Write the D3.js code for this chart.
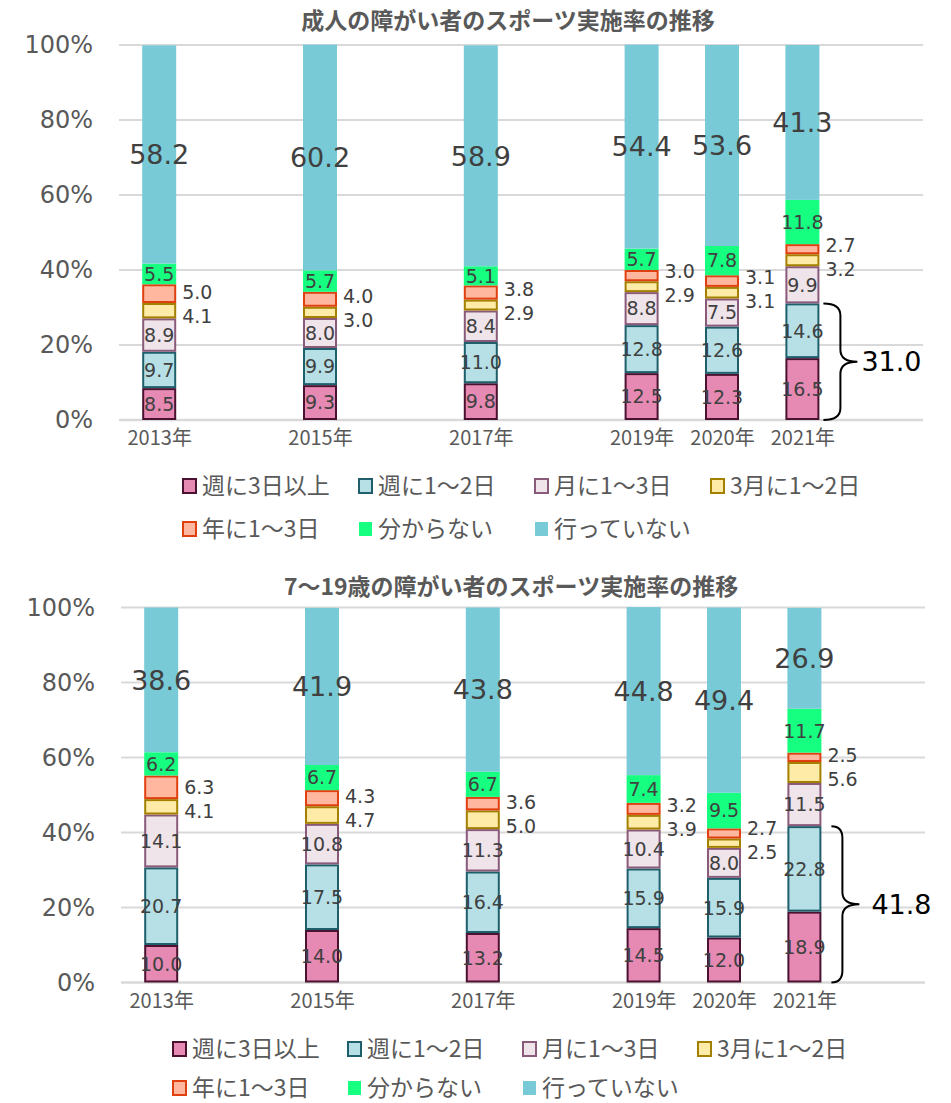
<!DOCTYPE html>
<html><head><meta charset="utf-8">
<script src="https://cdn.jsdelivr.net/npm/d3@7"></script>
<style>
html,body{margin:0;padding:0;background:#fff;}
svg{display:block;}
</style></head>
<body>
<svg id="chart" width="951" height="1103"></svg>
<script>
// ---------- data ----------
const years = [2013, 2015, 2017, 2019, 2020, 2021];
const yearLabels = ["2013年", "2015年", "2017年", "2019年", "2020年", "2021年"];
const seriesNames = ["週に3日以上", "週に1～2日", "月に1～3日", "3月に1～2日", "年に1～3日", "分からない", "行っていない"];
const yTickValues = [0, 20, 40, 60, 80, 100];
const yTickLabels = ["0%", "20%", "40%", "60%", "80%", "100%"];

const titleAdult = "成人の障がい者のスポーツ実施率の推移";
const adultWeek3 = [8.5, 9.3, 9.8, 12.5, 12.3, 16.5];
const adultWeek12 = [9.7, 9.9, 11.0, 12.8, 12.6, 14.6];
const adultMonth13 = [8.9, 8.0, 8.4, 8.8, 7.5, 9.9];
const adult3Month12 = [4.1, 3.0, 2.9, 2.9, 3.1, 3.2];
const adultYear13 = [5.0, 4.0, 3.8, 3.0, 3.1, 2.7];
const adultUnknown = [5.5, 5.7, 5.1, 5.7, 7.8, 11.8];
const adultNone = [58.2, 60.2, 58.9, 54.4, 53.6, 41.3];
const adultBraceLabel = "31.0";

const titleYouth = "7～19歳の障がい者のスポーツ実施率の推移";
const youthWeek3 = [10.0, 14.0, 13.2, 14.5, 12.0, 18.9];
const youthWeek12 = [20.7, 17.5, 16.4, 15.9, 15.9, 22.8];
const youthMonth13 = [14.1, 10.8, 11.3, 10.4, 8.0, 11.5];
const youth3Month12 = [4.1, 4.7, 5.0, 3.9, 2.5, 5.6];
const youthYear13 = [6.3, 4.3, 3.6, 3.2, 2.7, 2.5];
const youthUnknown = [6.2, 6.7, 6.7, 7.4, 9.5, 11.7];
const youthNone = [38.6, 41.9, 43.8, 44.8, 49.4, 26.9];
const youthBraceLabel = "41.8";

// ---------- styles ----------
const fills = ["#E68AB3", "#B6E0E6", "#F0E4EB", "#FFEBA8", "#FFB7A0", "#16FF80", "#77CAD6"];
const strokes = ["#4A1230", "#1F5F6B", "#8A5A7A", "#A38000", "#E0400F", null, null];
const NUM_FONT = "'DejaVu Sans', Verdana, sans-serif";
const JP_FONT = "'Noto Sans CJK JP', 'Noto Sans', sans-serif";
const GRAY = "#595959";
const LABEL = "#404040";

const svg = d3.select("#chart");

function drawChart(cfg) {
  const g = svg.append("g");
  const x = d3.scaleLinear().domain([2012.5, 2022.5]).range([cfg.left, cfg.right]);
  const y = d3.scaleLinear().domain([0, 100]).range([cfg.bottom, cfg.top]);
  const barW = 34;

  // title
  g.append("text").attr("x", cfg.titleX).attr("y", cfg.titleY)
    .attr("text-anchor", "middle").attr("font-family", JP_FONT)
    .attr("font-weight", 700).attr("font-size", 23).attr("fill", GRAY)
    .text(cfg.title);

  // gridlines
  g.selectAll("line.grid").data(yTickValues).join("line")
    .attr("x1", cfg.left).attr("x2", cfg.right)
    .attr("y1", d => y(d)).attr("y2", d => y(d))
    .attr("stroke", "#D9D9D9").attr("stroke-width", d => d === 0 ? 2.5 : 2);

  // y axis labels
  const yAxis = d3.axisLeft(y).tickValues(yTickValues).tickSize(0)
    .tickFormat((d, i) => yTickLabels[i]);
  const ya = g.append("g").attr("transform", `translate(${cfg.yLabelRight},0)`).call(yAxis);
  ya.select(".domain").remove();
  ya.selectAll("text").attr("font-family", NUM_FONT).attr("font-size", 24)
    .attr("fill", GRAY).attr("dx", 0).attr("x", 0);

  // x axis labels
  const xAxis = d3.axisBottom(x).tickValues(years).tickSize(0)
    .tickFormat((d, i) => yearLabels[i]);
  const xa = g.append("g").attr("transform", `translate(0,${cfg.bottom})`).call(xAxis);
  xa.select(".domain").remove();
  xa.selectAll("text").attr("font-family", JP_FONT).attr("font-size", 20)
    .attr("fill", GRAY).attr("y", 11);

  // stack
  const rows = years.map((yr, i) => {
    const o = { year: yr };
    cfg.series.forEach((s, k) => o["s" + k] = s[i]);
    return o;
  });
  const keys = cfg.series.map((s, k) => "s" + k);
  const stacked = d3.stack().keys(keys)(rows);

  stacked.forEach((layer, k) => {
    g.append("g").selectAll("rect").data(layer).join("rect")
      .attr("x", d => x(d.data.year) - barW / 2 + (strokes[k] ? 1 : 0))
      .attr("width", barW - (strokes[k] ? 2 : 0))
      .attr("y", d => y(d[1]) + (strokes[k] ? 1 : 0))
      .attr("height", d => Math.max(0, y(d[0]) - y(d[1]) - (strokes[k] ? 2 : 0)))
      .attr("fill", fills[k])
      .attr("stroke", strokes[k] || "none")
      .attr("stroke-width", 2);
  });

  // inside labels
  [0, 1, 2, 5, 6].forEach(k => {
    const layer = stacked[k];
    g.append("g").selectAll("text").data(layer).join("text")
      .attr("x", d => x(d.data.year))
      .attr("y", d => (y(d[0]) + y(d[1])) / 2)
      .attr("dy", "0.36em")
      .attr("text-anchor", "middle")
      .attr("font-family", NUM_FONT)
      .attr("font-size", k === 6 ? 27 : 19)
      .attr("fill", LABEL)
      .text(d => d3.format(".1f")(d.data["s" + k]));
  });

  // outside labels for the two thin series (3月に1～2日, 年に1～3日)
  const gap = 24;
  years.forEach((yr, i) => {
    const l3 = stacked[3][i], l4 = stacked[4][i];
    let c3 = (y(l3[0]) + y(l3[1])) / 2;
    let c4 = (y(l4[0]) + y(l4[1])) / 2;
    if (c3 - c4 < gap) {
      const m = (c3 + c4) / 2 + 2;
      c3 = m + gap / 2; c4 = m - gap / 2;
    }
    [[3, c3], [4, c4]].forEach(([k, cy]) => {
      g.append("text")
        .attr("x", x(yr) + barW / 2 + 6)
        .attr("y", cy).attr("dy", "0.36em")
        .attr("font-family", NUM_FONT).attr("font-size", 19)
        .attr("fill", LABEL)
        .text(d3.format(".1f")(cfg.series[k][i]));
    });
  });

  // brace on the last bar covering the first two series
  const last = years.length - 1;
  const yTop = y(stacked[1][last][1]);
  const yBot = y(0);
  const ym = (yTop + yBot) / 2;
  const bx = x(years[last]) + barW / 2;
  const x0 = bx + cfg.braceStart, xv = bx + 21, x2 = bx + 38;
  const r = 12;
  const p = d3.path();
  p.moveTo(x0, yTop);
  p.quadraticCurveTo(xv, yTop, xv, yTop + r);
  p.lineTo(xv, ym - r);
  p.quadraticCurveTo(xv, ym, x2, ym);
  p.quadraticCurveTo(xv, ym, xv, ym + r);
  p.lineTo(xv, yBot - r);
  p.quadraticCurveTo(xv, yBot, x0, yBot);
  g.append("path").attr("d", p.toString()).attr("fill", "none")
    .attr("stroke", "#000").attr("stroke-width", 2);
  g.append("text").attr("x", x2 + cfg.braceLabelGap).attr("y", ym).attr("dy", "0.36em")
    .attr("font-family", NUM_FONT).attr("font-size", 27).attr("fill", "#000")
    .text(cfg.braceLabel);

  // legend
  const rowsLegend = [[0, 1, 2, 3], [4, 5, 6]];
  rowsLegend.forEach((row, ri) => {
    row.forEach((k, ci) => {
      const lx = cfg.legendX + ci * cfg.legendStep;
      const ly = cfg.legendY + ri * cfg.legendRowGap;
      g.append("rect").attr("x", lx + 1).attr("y", ly - 7).attr("width", 13).attr("height", 14)
        .attr("fill", fills[k]).attr("stroke", strokes[k] || "none").attr("stroke-width", 2);
      g.append("text").attr("x", lx + 20).attr("y", ly).attr("dy", "0.36em")
        .attr("font-family", JP_FONT).attr("font-size", 23).attr("fill", GRAY)
        .text(seriesNames[k]);
    });
  });
}

drawChart({
  title: titleAdult, titleX: 508, titleY: 29,
  left: 119, right: 923, top: 45, bottom: 420, yLabelRight: 93,
  series: [adultWeek3, adultWeek12, adultMonth13, adult3Month12, adultYear13, adultUnknown, adultNone],
  braceLabel: adultBraceLabel, braceStart: 4, braceLabelGap: 4,
  legendX: 182, legendY: 486, legendStep: 176, legendRowGap: 43
});
drawChart({
  title: titleYouth, titleX: 511, titleY: 595,
  left: 121, right: 925, top: 607.5, bottom: 982.5, yLabelRight: 95,
  series: [youthWeek3, youthWeek12, youthMonth13, youth3Month12, youthYear13, youthUnknown, youthNone],
  braceLabel: youthBraceLabel, braceStart: 10, braceLabelGap: 12,
  legendX: 172, legendY: 1049, legendStep: 175, legendRowGap: 39
});
</script>
</body></html>
